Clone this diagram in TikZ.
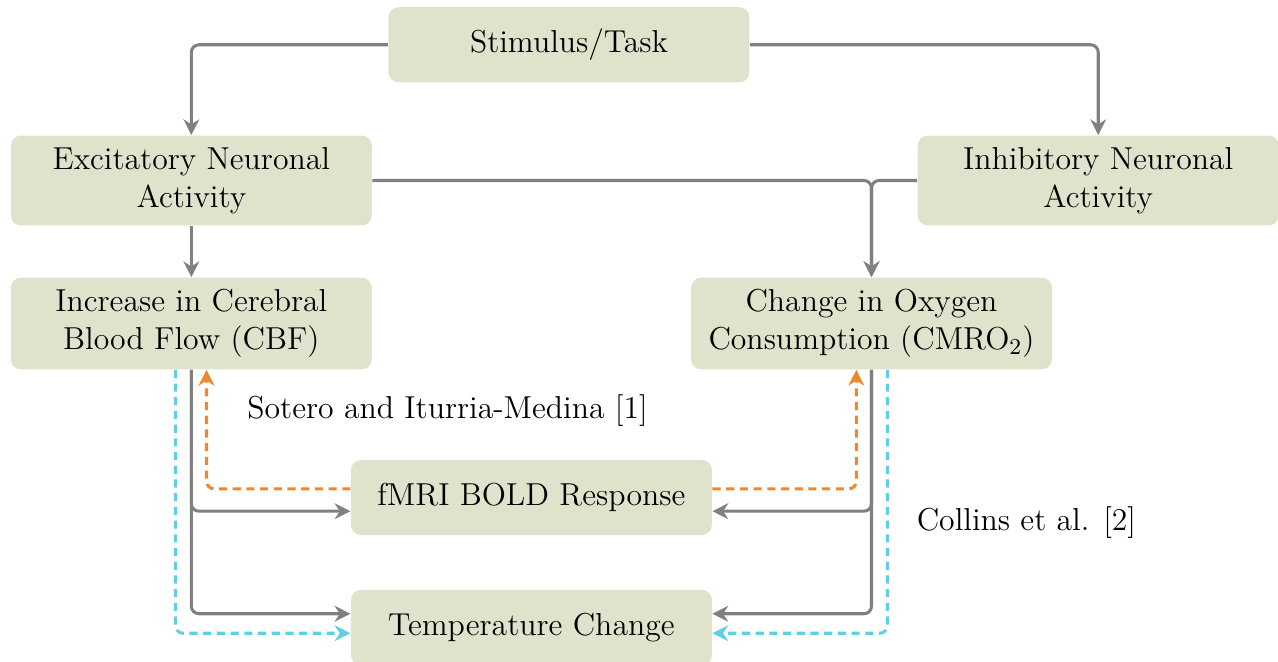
\documentclass[tikz,border=0pt]{standalone}
\usepackage{tikz}
\usetikzlibrary{arrows.meta,positioning,calc}
\definecolor{blockfill}{RGB}{224,227,204}
\definecolor{linkgray}{RGB}{128,128,128}
\definecolor{soterocol}{RGB}{242,134,44}
\definecolor{collinscol}{RGB}{98,206,230}
\newcommand{\blockfont}{\fontsize{12.5}{15}\selectfont}
\tikzset{
  block/.style = {rectangle, rounded corners=4pt, fill=blockfill, minimum width=5cm, minimum height=1.04cm, inner sep=4.6pt, align=center, font=\blockfont},
  link/.style = {-{Stealth[length=6.2pt,width=6.2pt]}, linkgray, very thick, rounded corners=3pt},
  soterolink/.style = {-{Stealth[length=6.2pt,width=6.2pt]}, soterocol, very thick, dash pattern=on 3.2pt off 2.2pt, rounded corners=3pt},
  collinslink/.style = {-{Stealth[length=6.2pt,width=6.2pt]}, collinscol, very thick, dash pattern=on 3.2pt off 2.2pt, rounded corners=3pt},
  reflabel/.style = {anchor=west, inner sep=0pt, font=\blockfont},
}
\begin{document}
\begin{tikzpicture}
\useasboundingbox (0,0) rectangle (17.70,-9.155);

% blocks
\node[block] (stim) at (7.88,-0.62) {Stimulus/Task};
\node[block] (exc) at (2.65,-2.50) {Excitatory Neuronal\\Activity};
\node[block] (inh) at (15.21,-2.50) {Inhibitory Neuronal\\Activity};
\node[block] (cbf) at (2.65,-4.48) {Increase in Cerebral\\Blood Flow (CBF)};
\node[block] (cmro) at (12.07,-4.48) {Change in Oxygen\\Consumption (CMRO$_2$)};
\node[block] (bold) at (7.36,-6.89) {fMRI BOLD Response};
\node[block] (temp) at (7.36,-8.69) {Temperature Change};

% references
\node[reflabel] (sotero) at (3.42,-5.69) {Sotero and Iturria-Medina [1]};
\node[reflabel] (collins) at (12.69,-7.24) {Collins et al. [2]};

% neuronal pathway
\draw[link] (stim.west) -| (exc.north);
\draw[link] (stim.east) -| (inh.north);
\draw[link] (exc.south) -- (cbf.north);
\draw[link] (exc.east) -| (cmro.north);
\draw[link] (inh.west) -| (cmro.north);

% outputs
\draw[link] (cbf.south) |- ([yshift=-0.19cm]bold.west);
\draw[link] (cbf.south) |- ([yshift=0.19cm]temp.west);
\draw[link] (cmro.south) |- ([yshift=-0.19cm]bold.east);
\draw[link] (cmro.south) |- ([yshift=0.19cm]temp.east);

% Sotero and Iturria-Medina
\draw[soterolink] ([yshift=0.12cm]bold.west) -| ([xshift=0.21cm]cbf.south);
\draw[soterolink] ([yshift=0.12cm]bold.east) -| ([xshift=-0.21cm]cmro.south);

% Collins et al.
\draw[collinslink] ([xshift=-0.22cm]cbf.south) |- ([yshift=-0.08cm]temp.west);
\draw[collinslink] ([xshift=0.22cm]cmro.south) |- ([yshift=-0.08cm]temp.east);

\end{tikzpicture}
\end{document}
